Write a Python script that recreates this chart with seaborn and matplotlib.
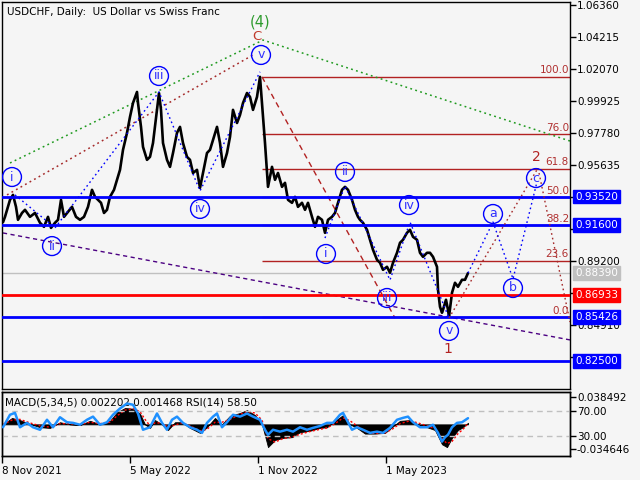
import matplotlib
matplotlib.use("Agg")
import matplotlib.pyplot as plt
import pandas as pd
import seaborn as sns

# ---------------- data ----------------
# daily closes, x = bar number counted from 8 Nov 2021
price_bar = [1, 3, 8, 11, 14, 16, 20, 23, 28, 33, 38, 42, 46, 49, 53, 56, 59, 62, 66, 70,
             74, 78, 82, 86, 90, 93, 96, 99, 102, 105, 108, 112, 115, 118, 121, 125, 128, 131, 135, 136,
             139, 141, 145, 148, 151, 155, 157, 159, 161, 165, 168, 171, 175, 178, 181, 185, 188, 191, 195, 198,
             201, 205, 208, 211, 215, 218, 221, 225, 228, 231, 235, 238, 241, 245, 248, 251, 255, 258, 260, 261,
             263, 265, 266, 270, 273, 276, 280, 283, 286, 290, 293, 296, 300, 303, 306, 310, 313, 316, 320, 323,
             326, 330, 333, 336, 340, 343, 346, 350, 353, 356, 358, 361, 365, 368, 371, 375, 378, 381, 385, 388,
             391, 395, 398, 401, 405, 408, 411, 415, 418, 421, 425, 428, 431, 435, 436, 438, 440, 441, 444, 446,
             447, 450, 453, 456, 460, 463, 466]
price_close = [0.9180, 0.9216, 0.9330, 0.9363, 0.9283, 0.9196, 0.9242, 0.9263, 0.9216, 0.9242,
               0.9176, 0.9149, 0.9216, 0.9142, 0.9176, 0.9196, 0.9330, 0.9216, 0.9249, 0.9283,
               0.9216, 0.9196, 0.9216, 0.9283, 0.9397, 0.9350, 0.9330, 0.9310, 0.9242, 0.9263,
               0.9350, 0.9397, 0.9464, 0.9531, 0.9665, 0.9779, 0.9886, 0.9979, 1.0053, 0.9979,
               0.9819, 0.9685, 0.9598, 0.9618, 0.9711, 0.9933, 1.0046, 0.9933, 0.9711, 0.9598,
               0.9551, 0.9644, 0.9779, 0.9819, 0.9711, 0.9618, 0.9598, 0.9510, 0.9531, 0.9410,
               0.9510, 0.9644, 0.9665, 0.9732, 0.9819, 0.9711, 0.9551, 0.9644, 0.9752, 0.9933,
               0.9845, 0.9899, 0.9979, 1.0046, 1.0020, 0.9933, 1.0020, 1.0154, 0.9979, 0.9886,
               0.9711, 0.9510, 0.9417, 0.9551, 0.9464, 0.9510, 0.9417, 0.9444, 0.9330, 0.9310,
               0.9350, 0.9283, 0.9310, 0.9263, 0.9310, 0.9216, 0.9149, 0.9216, 0.9196, 0.9109,
               0.9196, 0.9216, 0.9242, 0.9310, 0.9397, 0.9417, 0.9397, 0.9330, 0.9263, 0.9216,
               0.9196, 0.9176, 0.9129, 0.9062, 0.8995, 0.8928, 0.8908, 0.8861, 0.8881, 0.8841,
               0.8908, 0.8975, 0.9042, 0.9062, 0.9109, 0.9129, 0.9082, 0.9062, 0.8975, 0.8948,
               0.8975, 0.8975, 0.8948, 0.8881, 0.8727, 0.8613, 0.8573, 0.8593, 0.8660, 0.8593,
               0.8546, 0.8707, 0.8774, 0.8747, 0.8794, 0.8794, 0.8839]

# MACD(5,34,5) main and signal values
macd_bar = [1, 10, 18, 28, 38, 48, 58, 68, 78, 88, 98, 108, 115, 123, 131, 138, 143, 148, 153, 160,
            166, 173, 180, 188, 198, 205, 213, 220, 228, 238, 245, 253, 260, 266, 273, 281, 290, 298, 308, 318,
            325, 333, 341, 348, 355, 363, 373, 383, 390, 398, 408, 416, 425, 433, 440, 445, 450, 456, 461, 466]
macd_main = [0.0, 0.009, 0.006, 0.0005, -0.004, -0.005, 0.003, 0.0, -0.001, 0.005,
             0.0, 0.005, 0.017, 0.023, 0.022, 0.015, 0.0, -0.005, 0.006, 0.0,
             -0.008, 0.003, 0.003, -0.005, -0.012, -0.004, 0.009, 0.0, 0.012, 0.016,
             0.020, 0.013, 0.0, -0.032, -0.022, -0.019, -0.018, -0.011, -0.009, -0.005,
             -0.004, 0.005, 0.013, 0.0, -0.005, -0.013, -0.013, -0.012, -0.004, 0.005,
             0.006, 0.0, -0.004, -0.008, -0.028, -0.032, -0.019, -0.008, -0.004, 0.002202]
macd_signal = [0.0, 0.006, 0.007, 0.002, -0.002, -0.004, 0.001, 0.001, -0.0005, 0.003,
               0.001, 0.003, 0.012, 0.020, 0.022, 0.018, 0.007, -0.002, 0.002, 0.002,
               -0.004, -0.001, 0.002, -0.002, -0.009, -0.007, 0.003, 0.003, 0.007, 0.014,
               0.018, 0.016, 0.006, -0.020, -0.025, -0.020, -0.018, -0.014, -0.010, -0.007,
               -0.005, 0.001, 0.009, 0.005, -0.002, -0.010, -0.013, -0.012, -0.007, 0.001,
               0.005, 0.002, -0.002, -0.006, -0.020, -0.027, -0.024, -0.013, -0.007, 0.001468]

# RSI(14)
rsi_bar = [1, 8, 13, 18, 25, 31, 38, 45, 51, 58, 65, 71, 78, 85, 91, 98, 105, 111, 118, 125,
           131, 136, 141, 148, 155, 160, 165, 170, 175, 181, 188, 195, 200, 205, 211, 215, 220, 225, 231, 238,
           245, 251, 258, 263, 266, 271, 278, 285, 291, 298, 305, 311, 318, 325, 331, 338, 341, 346, 350, 355,
           361, 368, 375, 381, 388, 395, 401, 406, 411, 418, 425, 431, 436, 440, 443, 446, 450, 455, 460, 466]
rsi_val = [44, 64, 67, 44, 51, 44, 40, 56, 44, 60, 52, 51, 48, 56, 61, 48, 52, 64, 74, 82,
           80, 66, 40, 44, 66, 51, 40, 56, 61, 51, 44, 40, 35, 51, 61, 66, 44, 52, 64, 61,
           66, 61, 56, 40, 32, 40, 37, 40, 37, 44, 40, 43, 46, 51, 51, 64, 67, 52, 40, 44,
           40, 35, 37, 35, 43, 56, 59, 61, 52, 44, 44, 48, 35, 21, 28, 32, 44, 51, 52, 58.5]

date_ticks = [0, 128, 256, 384]
date_labels = ["8 Nov 2021", "5 May 2022", "1 Nov 2022", "1 May 2023"]

# price scale; labels sitting under a level box are left blank
price_ticks = [1.06360, 1.04215, 1.02070, 0.99925, 0.97780, 0.95635,
               0.93490, 0.91345, 0.89200, 0.87055, 0.84910, 0.82765]
price_tick_labels = ["1.06360", "1.04215", "1.02070", "0.99925", "0.97780", "0.95635",
                     "", "", "0.89200", "", "0.84910", ""]

blue_levels = [0.93520, 0.91600, 0.85426, 0.82500]
red_levels = [0.86933]
last_price = 0.88390

# Fibonacci grid of the decline from wave (4) to wave 1
fib_low, fib_high = 0.85426, 1.0155
fib_from = 260
fib_levels = [0.0, 23.6, 38.2, 50.0, 61.8, 76.0, 100.0]

# wave path points (bar, price)
green_line = ([8, 261, 568], [0.9577, 1.0401, 0.9724])
brown_chan = ([5, 251], [0.9363, 1.0301])
lower_trend = ([1, 568], [0.9108, 0.8391])
wave_c_path = ([13, 53, 157, 198, 258], [0.9363, 0.9142, 1.0053, 0.9390, 1.0188])
wave_1_line = ([260, 393], [1.0154, 0.8538])
wave_1_path = ([323, 343, 388, 408, 447], [0.9074, 0.9423, 0.8793, 0.9181, 0.8538])
wave_2_main = ([447, 536, 568], [0.8538, 0.9543, 0.8511])
wave_2_abc = ([466, 491, 511, 535], [0.8839, 0.9181, 0.8800, 0.9450])

circle_labels = [
    ("i", 10, 0.9483), ("ii", 50, 0.9020), ("iii", 157, 1.0160), ("iv", 198, 0.9269), ("v", 259, 1.0301),
    ("i", 324, 0.8967), ("ii", 343, 0.9517), ("iii", 385, 0.8672), ("iv", 407, 0.9295), ("v", 447, 0.8451),
    ("a", 491, 0.9235), ("b", 511, 0.8739), ("c", 534, 0.9476),
]
plain_labels = [
    ("(4)", 258, 1.0522, "#2e9b2e", 10.5),
    ("C", 255, 1.0428, "#c0392b", 9.5),
    ("1", 446, 0.8330, "#b22222", 10),
    ("2", 534, 0.9617, "#b22222", 10),
]

# ---------------- figure ----------------
sns.set_theme(style="white")
plt.rcParams["font.family"] = ["DejaVu Sans"]
BG = "#f5f5f5"
FS = 7.5

fig = plt.figure(figsize=(6.4, 4.8), dpi=100, facecolor=BG)
ax = fig.add_axes([2 / 640, 1 - 389 / 480, 568 / 640, 387 / 480], facecolor=BG)
axm = fig.add_axes([2 / 640, 24 / 480, 568 / 640, 64 / 480], facecolor=BG)
axr = axm.twinx()

XMAX = 568
ax.set_xlim(0, XMAX)
ax.set_ylim(0.8062, 1.0656)

# price
df = pd.DataFrame({"bar": price_bar, "close": price_close})
sns.lineplot(data=df, x="bar", y="close", ax=ax, color="black", lw=1.9,
             estimator=None, zorder=3)

# key horizontal levels
for lv in blue_levels:
    ax.axhline(lv, color="#0000ff", lw=2.0, zorder=4)
for lv in red_levels:
    ax.axhline(lv, color="#ff0000", lw=2.0, zorder=4)
ax.axhline(last_price, color="#c0c0c0", lw=1.0, zorder=2)

# fibonacci
for lvl in fib_levels:
    yv = fib_low + (fib_high - fib_low) * lvl / 100.0
    ax.hlines(yv, fib_from, XMAX, color="#b22222", lw=1.0, zorder=2)
    ax.text(XMAX - 1, yv + 0.0022, f"{lvl:.1f}", ha="right", va="baseline",
            color="#b03030", fontsize=FS, zorder=5)

# trend / wave lines
dots = (0, (1.2, 2.2))
ax.plot(*green_line, color="#1f9a1f", lw=1.1, ls=dots, zorder=2)
ax.plot(*brown_chan, color="#a52a2a", lw=1.1, ls=dots, zorder=2)
ax.plot(*lower_trend, color="#4b0082", lw=1.0, ls=(0, (3, 2.5)), zorder=2)
ax.plot(*wave_c_path, color="#0000ff", lw=1.0, ls=dots, zorder=5)
ax.plot(*wave_1_line, color="#b22222", lw=1.0, ls=(0, (4, 3)), zorder=2)
ax.plot(*wave_1_path, color="#0000ff", lw=1.0, ls=dots, zorder=5)
ax.plot(*wave_2_main, color="#a52a2a", lw=1.0, ls=dots, zorder=5)
ax.plot(*wave_2_abc, color="#0000ff", lw=1.0, ls=dots, zorder=5)

# wave labels
for txt, xb, yp in circle_labels:
    ax.scatter([xb], [yp], s=185, facecolors="none", edgecolors="#0000ff",
               linewidths=1.0, zorder=6)
    ax.text(xb, yp, txt, ha="center", va="center", color="#3030ff",
            fontsize=9, zorder=7)
for txt, xb, yp, col, fs in plain_labels:
    ax.text(xb, yp, txt, ha="center", va="center", color=col, fontsize=fs, zorder=7)

# axes cosmetics
ax.set_xticks([])
ax.yaxis.tick_right()
ax.set_yticks(price_ticks)
ax.set_yticklabels(price_tick_labels)
ax.tick_params(axis="y", direction="out", length=4, width=1, pad=1,
               labelsize=FS, colors="black", right=True, left=False)
ax.set_xlabel("")
ax.set_ylabel("")
for sp in ax.spines.values():
    sp.set_color("black")
    sp.set_linewidth(1.0)

# price boxes on the scale
box_items = [(0.93520, "#0000ff"), (0.91600, "#0000ff"), (last_price, "#c0c0c0"),
             (0.86933, "#ff0000"), (0.85426, "#0000ff"), (0.82500, "#0000ff")]
for val, col in box_items:
    ax.annotate(f"{val:.5f}", xy=(1.0088, val), xycoords=("axes fraction", "data"),
                ha="left", va="center", color="white", fontsize=FS, zorder=10,
                annotation_clip=False,
                bbox=dict(boxstyle="square,pad=0.18", fc=col, ec=col))

fig.text(7 / 640, 1 - 12 / 480, "USDCHF, Daily:  US Dollar vs Swiss Franc",
         ha="left", va="center", fontsize=FS, color="black")

# ---------------- MACD / RSI panel ----------------
axm.set_xlim(0, XMAX)
axm.set_ylim(-0.0445, 0.0455)
axr.set_ylim(-2, 100.4)

axm.fill_between(macd_bar, 0, macd_main, color="black", lw=0.6, zorder=2)
sns.lineplot(x=macd_bar, y=macd_signal, ax=axm, color="#ff0000", lw=1.0,
             linestyle=(0, (1.5, 1.5)), estimator=None, zorder=3)

axr.axhline(70, color="#c0c0c0", lw=1.0, ls=(0, (4, 3)), zorder=1)
axr.axhline(30, color="#c0c0c0", lw=1.0, ls=(0, (4, 3)), zorder=1)
sns.lineplot(x=rsi_bar, y=rsi_val, ax=axr, color="#1e90ff", lw=1.8,
             estimator=None, zorder=4)

axm.yaxis.tick_right()
axm.set_yticks([0.038492, -0.034646])
axm.set_yticklabels(["0.038492", "-0.034646"])
axr.set_yticks([70, 30])
axr.set_yticklabels(["70.00", "30.00"])
for a in (axm, axr):
    a.tick_params(axis="y", direction="out", length=4, width=1, pad=1,
                  labelsize=FS, colors="black", right=True, left=False)
    a.set_xlabel("")
    a.set_ylabel("")
axm.set_xticks(date_ticks)
axm.set_xticklabels(date_labels, ha="left")
axm.tick_params(axis="x", direction="out", length=5, width=1, pad=2,
                labelsize=FS, colors="black", bottom=True)
for a in (axm, axr):
    for sp in a.spines.values():
        sp.set_color("black")
        sp.set_linewidth(1.0)

axm.text(3 / 568, 0.84, "MACD(5,34,5) 0.002202 0.001468 RSI(14) 58.50",
         transform=axm.transAxes, ha="left", va="center", fontsize=FS,
         color="black", zorder=6)

fig.savefig("out.png", dpi=100, facecolor=BG)
